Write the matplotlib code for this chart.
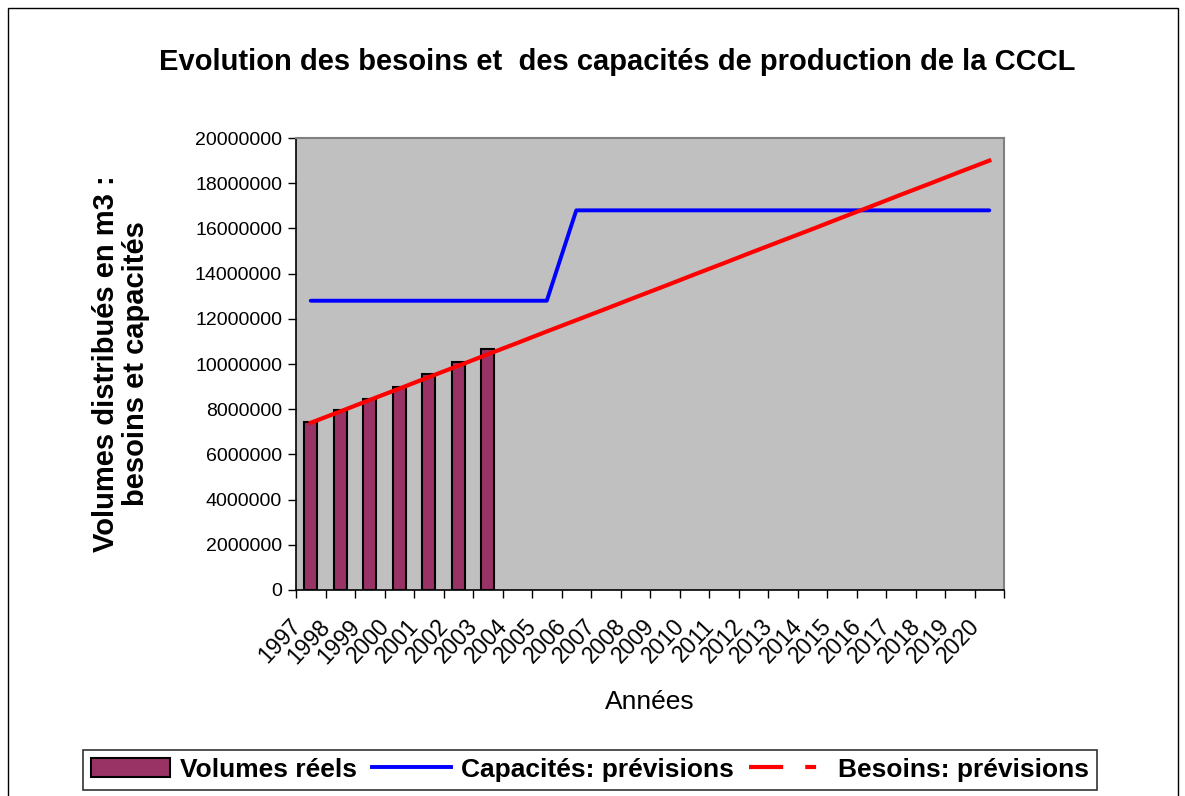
import numpy as np
import matplotlib
matplotlib.use('Agg')
import matplotlib.pyplot as plt
from matplotlib.lines import Line2D
from matplotlib.patches import Rectangle, Patch
from matplotlib.ticker import FuncFormatter
from matplotlib.transforms import ScaledTranslation

plt.rcParams['font.family'] = ['Liberation Sans', 'DejaVu Sans']

# data
years = [str(y) for y in range(1997, 2021)]
volumes_reels = [7450000, 7960000, 8440000, 8970000, 9560000, 10100000, 10660000]
capacites = [12800000] * 9 + [16800000] * 15
besoins = [7400000, 7900000, 8410000, 8910000, 9420000, 9920000, 10430000, 10930000,
           11440000, 11940000, 12440000, 12950000, 13450000, 13960000, 14460000, 14970000,
           15470000, 15970000, 16480000, 16980000, 17490000, 17990000, 18500000, 19000000]

x = np.arange(len(years))

fig = plt.figure(figsize=(11.85, 7.96), dpi=100)
ax = fig.add_axes([0.2498, 0.2588, 0.5975, 0.5678])
ax.set_facecolor('#C0C0C0')

ax.bar(x[:len(volumes_reels)], volumes_reels, width=0.45, color='#993366',
       edgecolor='black', linewidth=1.5, zorder=2)
ax.plot(x, capacites, color='#0000FF', lw=2.8, solid_capstyle='round', zorder=3)
ax.plot(x, besoins, color='#FF0000', lw=3.0, zorder=4)

ax.set_xlim(-0.5, len(years) - 0.5)
ax.set_ylim(0, 20000000)
ax.set_yticks(np.arange(0, 20000001, 2000000))
ax.yaxis.set_major_formatter(FuncFormatter(lambda v, p: '%d' % v))
ax.tick_params(axis='y', labelsize=14, length=6, width=1, pad=4)

ax.set_xticks(np.arange(-0.5, len(years)), minor=False)
ax.set_xticklabels([])
ax.set_xticks(x, minor=True)
ax.set_xticklabels(years, minor=True, rotation=47, ha='right', va='top',
                   rotation_mode='anchor', fontsize=16.5)
ax.tick_params(axis='x', which='major', length=6, width=1)
ax.tick_params(axis='x', which='minor', length=0, pad=18)
shift = ScaledTranslation(-22 / 100, 0, fig.dpi_scale_trans)
for lab in ax.get_xticklabels(minor=True):
    lab.set_transform(lab.get_transform() + shift)

for s in ['top', 'right']:
    ax.spines[s].set_color('#808080')
    ax.spines[s].set_linewidth(1.5)
for s in ['left', 'bottom']:
    ax.spines[s].set_color('black')
    ax.spines[s].set_linewidth(1.2)

ax.set_xlabel('Années', fontsize=19, labelpad=16)
ax.set_ylabel('Volumes distribués en m3 :\nbesoins et capacités', fontsize=21,
              fontweight='bold', linespacing=1.1)
ax.yaxis.set_label_coords(-0.206, 0.5)

fig.text(0.521, 0.922, 'Evolution des besoins et  des capacités de production de la CCCL',
         ha='center', va='center', fontsize=21, fontweight='bold')

handles = [
    Patch(facecolor='#993366', edgecolor='black', linewidth=1.5),
    Line2D([], [], color='#0000FF', lw=2.8),
    Line2D([], [], color='#FF0000', lw=3.0, dashes=(8.2, 5.3, 2.6, 5.3),
           dash_capstyle='butt'),
]
labels = ['Volumes réels', 'Capacités: prévisions', 'Besoins: prévisions']
leg = fig.legend(handles, labels, loc='center', bbox_to_anchor=(0.498, 0.033),
                 ncol=3, prop={'weight': 'bold', 'size': 19},
                 frameon=True, fancybox=False, edgecolor='black', handlelength=3.0,
                 handletextpad=0.38, columnspacing=0.57, borderpad=0.3)
leg.get_frame().set_linewidth(1.2)

fig.patches.append(Rectangle((8 / 1185, -0.01), 1170 / 1185, 1 - 8 / 796 + 0.01,
                             transform=fig.transFigure, fill=False,
                             edgecolor='black', linewidth=1))

fig.savefig('out.png', dpi=100)
